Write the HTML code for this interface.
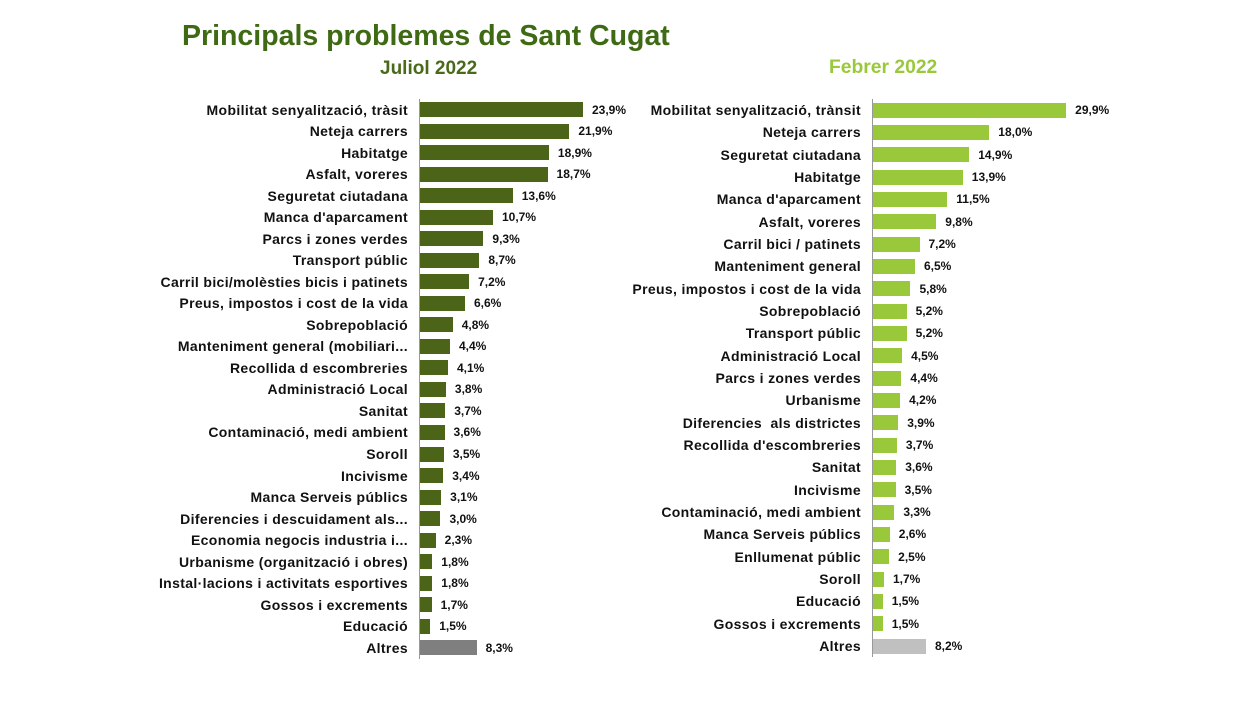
<!DOCTYPE html>
<html><head><meta charset="utf-8"><style>
body{margin:0;width:1250px;height:703px;background:#fff;font-family:"Liberation Sans",Arial,sans-serif;position:relative;overflow:hidden}
.t{position:absolute;font-weight:bold;white-space:nowrap}
.chart{position:absolute;top:99px}
.r{display:flex;align-items:center;position:relative}
.l{text-align:right;font-weight:bold;font-size:14px;letter-spacing:0.35px;color:#111;white-space:nowrap;padding-right:12px;box-sizing:border-box}
.b{height:15px}
.v{font-weight:bold;font-size:12px;color:#111;margin-left:9px}
.L .r{height:21.52px}.R .r{height:22.33px}
.L .l{width:420px}.R .l{width:873px}
.L .b{background:#4b6418;width:calc(var(--v)*6.82px)}
.R .b{background:#99c93a;width:calc(var(--v)*6.46px)}
.L .g{background:#7f7f7f}.R .g{background:#c0c0c0}
.ax{position:absolute;top:99px;width:1px;background:#999}
</style></head><body>
<div class="t" style="left:182px;top:20px;font-size:28.5px;color:#3f6a14">Principals problemes de Sant Cugat</div>
<div class="t" style="left:380px;top:58px;font-size:19px;color:#4a6a1a">Juliol 2022</div>
<div class="t" style="left:829px;top:57px;font-size:19.3px;color:#99c93a">Febrer 2022</div>
<div class="ax" style="left:419px;height:560px"></div>
<div class="ax" style="left:872px;height:558px"></div>
<div class="chart L" style="left:0">
<div class="r"><div class="l">Mobilitat senyalització, tràsit</div><div class="b" style="--v:23.9"></div><div class="v">23,9%</div></div>
<div class="r"><div class="l">Neteja carrers</div><div class="b" style="--v:21.9"></div><div class="v">21,9%</div></div>
<div class="r"><div class="l">Habitatge</div><div class="b" style="--v:18.9"></div><div class="v">18,9%</div></div>
<div class="r"><div class="l">Asfalt, voreres</div><div class="b" style="--v:18.7"></div><div class="v">18,7%</div></div>
<div class="r"><div class="l">Seguretat ciutadana</div><div class="b" style="--v:13.6"></div><div class="v">13,6%</div></div>
<div class="r"><div class="l">Manca d'aparcament</div><div class="b" style="--v:10.7"></div><div class="v">10,7%</div></div>
<div class="r"><div class="l">Parcs i zones verdes</div><div class="b" style="--v:9.3"></div><div class="v">9,3%</div></div>
<div class="r"><div class="l">Transport públic</div><div class="b" style="--v:8.7"></div><div class="v">8,7%</div></div>
<div class="r"><div class="l">Carril bici/molèsties bicis i patinets</div><div class="b" style="--v:7.2"></div><div class="v">7,2%</div></div>
<div class="r"><div class="l">Preus, impostos i cost de la vida</div><div class="b" style="--v:6.6"></div><div class="v">6,6%</div></div>
<div class="r"><div class="l">Sobrepoblació</div><div class="b" style="--v:4.8"></div><div class="v">4,8%</div></div>
<div class="r"><div class="l">Manteniment general (mobiliari...</div><div class="b" style="--v:4.4"></div><div class="v">4,4%</div></div>
<div class="r"><div class="l">Recollida d escombreries</div><div class="b" style="--v:4.1"></div><div class="v">4,1%</div></div>
<div class="r"><div class="l">Administració Local</div><div class="b" style="--v:3.8"></div><div class="v">3,8%</div></div>
<div class="r"><div class="l">Sanitat</div><div class="b" style="--v:3.7"></div><div class="v">3,7%</div></div>
<div class="r"><div class="l">Contaminació, medi ambient</div><div class="b" style="--v:3.6"></div><div class="v">3,6%</div></div>
<div class="r"><div class="l">Soroll</div><div class="b" style="--v:3.5"></div><div class="v">3,5%</div></div>
<div class="r"><div class="l">Incivisme</div><div class="b" style="--v:3.4"></div><div class="v">3,4%</div></div>
<div class="r"><div class="l">Manca Serveis públics</div><div class="b" style="--v:3.1"></div><div class="v">3,1%</div></div>
<div class="r"><div class="l">Diferencies i descuidament als...</div><div class="b" style="--v:3.0"></div><div class="v">3,0%</div></div>
<div class="r"><div class="l">Economia negocis industria i...</div><div class="b" style="--v:2.3"></div><div class="v">2,3%</div></div>
<div class="r"><div class="l">Urbanisme (organització i obres)</div><div class="b" style="--v:1.8"></div><div class="v">1,8%</div></div>
<div class="r"><div class="l">Instal·lacions i activitats esportives</div><div class="b" style="--v:1.8"></div><div class="v">1,8%</div></div>
<div class="r"><div class="l">Gossos i excrements</div><div class="b" style="--v:1.7"></div><div class="v">1,7%</div></div>
<div class="r"><div class="l">Educació</div><div class="b" style="--v:1.5"></div><div class="v">1,5%</div></div>
<div class="r"><div class="l">Altres</div><div class="b g" style="--v:8.3"></div><div class="v">8,3%</div></div>
</div>
<div class="chart R" style="left:0">
<div class="r"><div class="l">Mobilitat senyalització, trànsit</div><div class="b" style="--v:29.9"></div><div class="v">29,9%</div></div>
<div class="r"><div class="l">Neteja carrers</div><div class="b" style="--v:18.0"></div><div class="v">18,0%</div></div>
<div class="r"><div class="l">Seguretat ciutadana</div><div class="b" style="--v:14.9"></div><div class="v">14,9%</div></div>
<div class="r"><div class="l">Habitatge</div><div class="b" style="--v:13.9"></div><div class="v">13,9%</div></div>
<div class="r"><div class="l">Manca d'aparcament</div><div class="b" style="--v:11.5"></div><div class="v">11,5%</div></div>
<div class="r"><div class="l">Asfalt, voreres</div><div class="b" style="--v:9.8"></div><div class="v">9,8%</div></div>
<div class="r"><div class="l">Carril bici / patinets</div><div class="b" style="--v:7.2"></div><div class="v">7,2%</div></div>
<div class="r"><div class="l">Manteniment general</div><div class="b" style="--v:6.5"></div><div class="v">6,5%</div></div>
<div class="r"><div class="l">Preus, impostos i cost de la vida</div><div class="b" style="--v:5.8"></div><div class="v">5,8%</div></div>
<div class="r"><div class="l">Sobrepoblació</div><div class="b" style="--v:5.2"></div><div class="v">5,2%</div></div>
<div class="r"><div class="l">Transport públic</div><div class="b" style="--v:5.2"></div><div class="v">5,2%</div></div>
<div class="r"><div class="l">Administració Local</div><div class="b" style="--v:4.5"></div><div class="v">4,5%</div></div>
<div class="r"><div class="l">Parcs i zones verdes</div><div class="b" style="--v:4.4"></div><div class="v">4,4%</div></div>
<div class="r"><div class="l">Urbanisme</div><div class="b" style="--v:4.2"></div><div class="v">4,2%</div></div>
<div class="r"><div class="l">Diferencies &nbsp;als districtes</div><div class="b" style="--v:3.9"></div><div class="v">3,9%</div></div>
<div class="r"><div class="l">Recollida d'escombreries</div><div class="b" style="--v:3.7"></div><div class="v">3,7%</div></div>
<div class="r"><div class="l">Sanitat</div><div class="b" style="--v:3.6"></div><div class="v">3,6%</div></div>
<div class="r"><div class="l">Incivisme</div><div class="b" style="--v:3.5"></div><div class="v">3,5%</div></div>
<div class="r"><div class="l">Contaminació, medi ambient</div><div class="b" style="--v:3.3"></div><div class="v">3,3%</div></div>
<div class="r"><div class="l">Manca Serveis públics</div><div class="b" style="--v:2.6"></div><div class="v">2,6%</div></div>
<div class="r"><div class="l">Enllumenat públic</div><div class="b" style="--v:2.5"></div><div class="v">2,5%</div></div>
<div class="r"><div class="l">Soroll</div><div class="b" style="--v:1.7"></div><div class="v">1,7%</div></div>
<div class="r"><div class="l">Educació</div><div class="b" style="--v:1.5"></div><div class="v">1,5%</div></div>
<div class="r"><div class="l">Gossos i excrements</div><div class="b" style="--v:1.5"></div><div class="v">1,5%</div></div>
<div class="r"><div class="l">Altres</div><div class="b g" style="--v:8.2"></div><div class="v">8,2%</div></div>
</div>
</body></html>
